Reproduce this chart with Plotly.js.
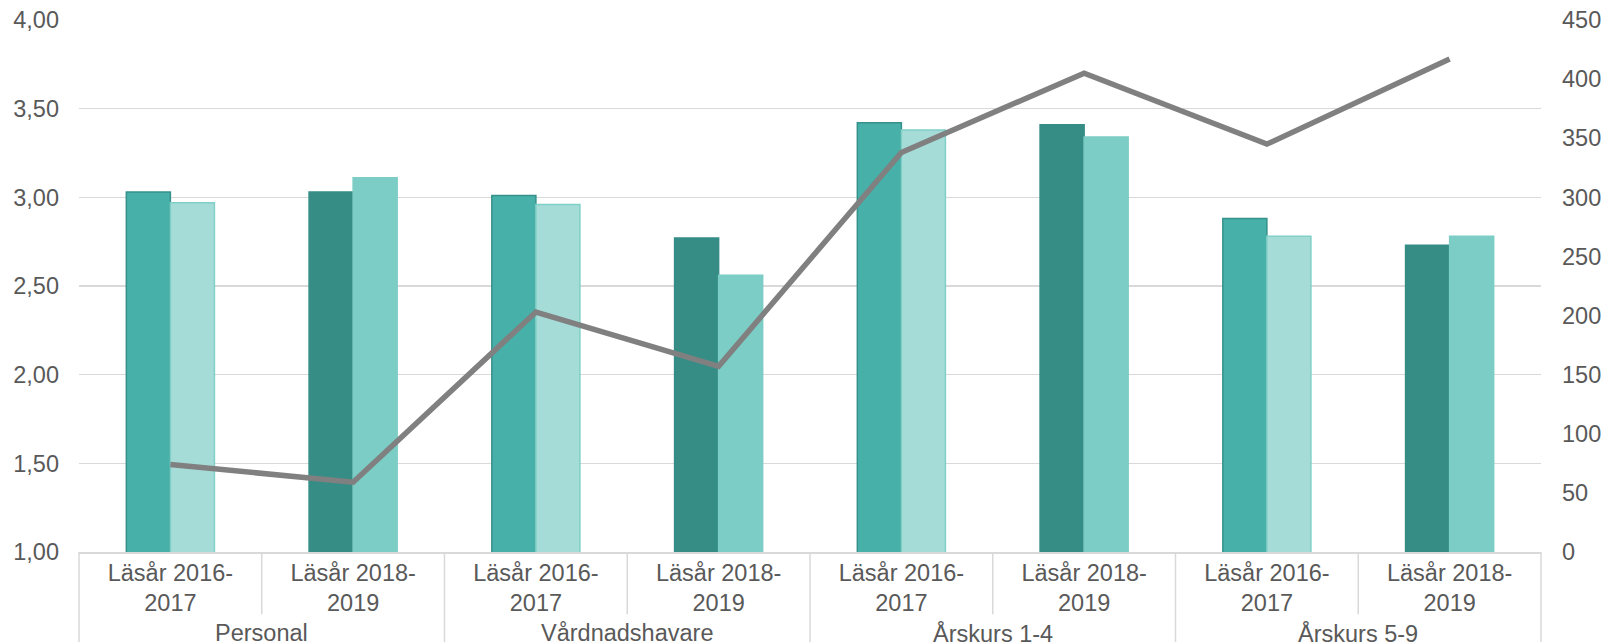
<!DOCTYPE html>
<html>
<head>
<meta charset="utf-8">
<script src="https://cdn.plot.ly/plotly-3.0.1.min.js"></script>
<style>
  html, body { margin: 0; padding: 0; background: #fff; }
  #chart { width: 1604px; height: 642px; }
</style>
</head>
<body>
<div id="chart"></div>
<script>
// data
const groups = ['Personal', 'Vårdnadshavare', 'Årskurs 1-4', 'Årskurs 5-9'];
const years = ['Läsår 2016-<br>2017', 'Läsår 2018-<br>2019'];
const seriesA = [3.03, 3.03, 3.01, 2.77, 3.42, 3.41, 2.88, 2.73];
const seriesB = [2.97, 3.11, 2.96, 2.56, 3.38, 3.34, 2.78, 2.78];
const antal = [74, 59, 203, 157, 338, 405, 345, 417];

const textColor = '#595959';
const gridColor = '#d9d9d9';
const font = 'Liberation Sans, Arial, sans-serif';

// one slot per (group, year)
const xIdx = [];
const tickText = [];
groups.forEach((g, gi) => {
    years.forEach((y, yi) => {
        xIdx.push(gi * years.length + yi);
        tickText.push(y);
    });
});

// 2016-2017 and 2018-2019 bars have their own shades
const isFirstYear = xIdx.map(i => i % 2 === 0);
const colA = isFirstYear.map(f => f ? '#46b0a9' : '#358d86');
const lineA = isFirstYear.map(f => f ? '#35918a' : '#358d86');
const colB = isFirstYear.map(f => f ? '#a5dcd8' : '#7ccdc5');
const lineB = isFirstYear.map(f => f ? '#80d0c8' : '#7ccdc5');

const traces = [
    {
        type: 'bar', x: xIdx, y: seriesA, name: 'A',
        marker: { color: colA, line: { color: lineA, width: 1.5 } },
        hoverinfo: 'y'
    },
    {
        type: 'bar', x: xIdx, y: seriesB, name: 'B',
        marker: { color: colB, line: { color: lineB, width: 1.5 } },
        hoverinfo: 'y'
    },
    {
        type: 'scatter', mode: 'lines', x: xIdx, y: antal, yaxis: 'y2', name: 'Antal',
        line: { color: '#808080', width: 5.5 },
        hoverinfo: 'y'
    }
];

// divider lines under the axis: short between years, long between groups
const nCat = xIdx.length;
const shapes = [];
for (let k = 0; k <= nCat; k++) {
    const groupEdge = k % years.length === 0;
    shapes.push({
        type: 'line', xref: 'paper', yref: 'paper',
        x0: k / nCat, x1: k / nCat,
        y0: 0, y1: groupEdge ? -0.2 : -0.117,
        line: { color: gridColor, width: 1.5 }
    });
}

const annotations = groups.map((g, gi) => ({
    text: g, xref: 'x', yref: 'paper',
    x: gi * years.length + (years.length - 1) / 2,
    y: -0.124, yanchor: 'top', showarrow: false,
    font: { family: font, size: 23.5, color: textColor }
}));

const layout = {
    width: 1604, height: 642,
    margin: { l: 79, r: 63, t: 20, b: 90 },
    paper_bgcolor: '#fff', plot_bgcolor: '#fff',
    separators: ',.',
    showlegend: false,
    barmode: 'group', bargap: 0.518, bargroupgap: 0,
    font: { family: font, size: 23.5, color: textColor },
    xaxis: {
        range: [-0.5, nCat - 0.5],
        tickvals: xIdx, ticktext: tickText,
        showgrid: false, zeroline: false,
        showline: true, linecolor: gridColor, linewidth: 1.5,
        ticks: '', ticklabelstandoff: -1,
        tickfont: { family: font, size: 23.5, color: textColor }
    },
    yaxis: {
        range: [1, 4], dtick: 0.5, tickformat: '.2f',
        showgrid: true, gridcolor: gridColor, gridwidth: 1.3,
        zeroline: false, showline: false, ticks: '',
        ticklabelstandoff: 19,
        tickfont: { family: font, size: 23.5, color: textColor }
    },
    yaxis2: {
        overlaying: 'y', side: 'right',
        range: [0, 450], dtick: 50,
        showgrid: false, zeroline: false, showline: false, ticks: '',
        ticklabelstandoff: 20,
        tickfont: { family: font, size: 23.5, color: textColor }
    },
    shapes: shapes,
    annotations: annotations
};

Plotly.newPlot('chart', traces, layout, { displayModeBar: false, staticPlot: true });
</script>
</body>
</html>
